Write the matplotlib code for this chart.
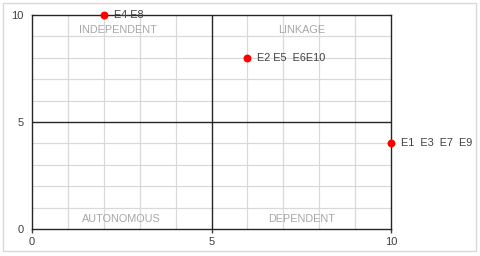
import matplotlib
matplotlib.use("Agg")
import matplotlib.pyplot as plt
from matplotlib.patches import Rectangle

# dados
x_vals = [2, 6, 10]
y_vals = [10, 8, 4]
rotulos = ["E4 E8", "E2 E5  E6E10", "E1  E3  E7  E9"]
quadrantes = ["INDEPENDENT", "LINKAGE", "AUTONOMOUS", "DEPENDENT"]
quad_pos = [(2.4, 9.3), (7.5, 9.3), (2.5, 0.45), (7.5, 0.45)]
ticks = [0, 5, 10]

plt.rcParams["font.family"] = ["Liberation Sans", "DejaVu Sans"]

fig = plt.figure(figsize=(4.8, 2.56), dpi=100)
fig.patches.append(Rectangle((3/480, 5/256), 473/480, 248/256, transform=fig.transFigure,
                             fill=False, edgecolor="#d9d9d9", lw=1))
ax = fig.add_axes([32/480, 1-229/256, 359/480, 214/256])

ax.set_xlim(0, 10); ax.set_ylim(0, 10)
ax.set_xticks(ticks); ax.set_yticks(ticks)
ax.set_xticks(range(11), minor=True); ax.set_yticks(range(11), minor=True)
ax.grid(which="minor", color="#d9d9d9", lw=0.9)
ax.tick_params(which="minor", length=0)
ax.tick_params(axis="x", length=3, width=1, labelsize=8, colors="#404040", pad=3)
ax.tick_params(axis="y", length=0, labelsize=8, colors="#404040", pad=6)
ax.axvline(5, color="#262626", lw=1, zorder=2)
ax.axhline(5, color="#262626", lw=1, zorder=2)
for s in ax.spines.values():
    s.set_color("#262626"); s.set_linewidth(1)

ax.scatter(x_vals, y_vals, s=22, color="#ff0000", zorder=5, clip_on=False)
for xv, yv, r in zip(x_vals, y_vals, rotulos):
    ax.annotate(r, (xv, yv), xytext=(7, 0), textcoords="offset points",
                va="center", ha="left", fontsize=7.8, color="#404040",
                annotation_clip=False)
for q, (qx, qy) in zip(quadrantes, quad_pos):
    ax.text(qx, qy, q, ha="center", va="center", fontsize=7.8, color="#a6a6a6")

fig.savefig("out.png", dpi=100)
